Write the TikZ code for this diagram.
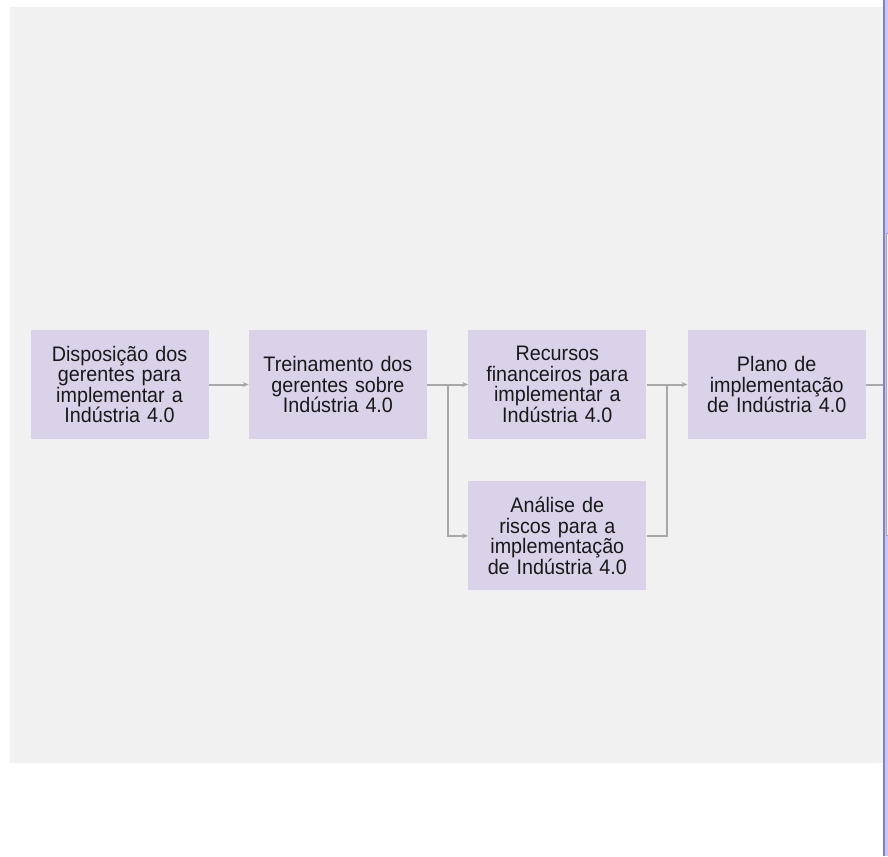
\documentclass[tikz,border=0pt]{standalone}
\usepackage{fontspec}
\setmainfont[FakeStretch=0.94]{Liberation Sans}
\usepackage{tikz}
\usetikzlibrary{shapes,arrows.meta,positioning,calc}
\definecolor{boxlilac}{HTML}{D9D2E9}
\definecolor{bggray}{HTML}{F1F1F1}
\definecolor{linegray}{HTML}{A8A8A8}
\definecolor{edgeblue}{HTML}{8080D0}
\definecolor{edgelilac}{HTML}{C9C9EE}

\begin{document}
\begin{tikzpicture}[x=1pt, y=-1pt, node distance=40pt, >={Stealth[length=6pt,width=5pt]}]
  \tikzstyle{box} = [rectangle, fill=boxlilac, minimum width=178pt, minimum height=109pt, text width=174pt, align=center, inner sep=0pt, text=black!90, font=\fontsize{21}{20.5}\selectfont]
  \tikzstyle{link} = [draw=linegray, line width=2pt]

  \useasboundingbox (0,0) rectangle (888,856);
  \fill[bggray] (10,7) rectangle (888,763);
  % cut-off shape beyond the right edge
  \fill[edgelilac] (885,0) rectangle (888,856);
  \filldraw[fill=bggray, draw=linegray, line width=0.8pt] (886,233) rectangle (889,535);

  \node[box] (dispo) at (119.5,384.5) {Disposição dos\\gerentes para\\implementar a\\Indústria 4.0};
  \node[box] (treino) [right=of dispo] {Treinamento dos\\gerentes sobre\\Indústria 4.0};
  \node[box] (recursos) [right=41pt of treino] {Recursos\\financeiros para\\implementar a\\Indústria 4.0};
  \node[box] (plano) [right=41pt of recursos] {Plano de\\implementação\\de Indústria 4.0};
  \node[box] (analise) [below=42pt of recursos] {Análise de\\riscos para a\\implementação\\de Indústria 4.0};

  \coordinate (split) at ($(treino.east)!0.5!(recursos.west)$);
  \coordinate (join) at ($(recursos.east)!0.5!(plano.west)$);
  \coordinate (saida) at (plano.east -| 883,0);

  \draw[link,->] (dispo) -- (treino);
  \draw[link,->] (treino) -- (recursos);
  \draw[link,->] (split) |- (analise);
  \draw[link] (analise) -| (join);
  \draw[link,->] (recursos) -- (plano);
  \draw[link] (plano) -- (saida);

  \draw[edgeblue, line width=2.6pt] (884,0) -- (884,856);
\end{tikzpicture}
\end{document}
